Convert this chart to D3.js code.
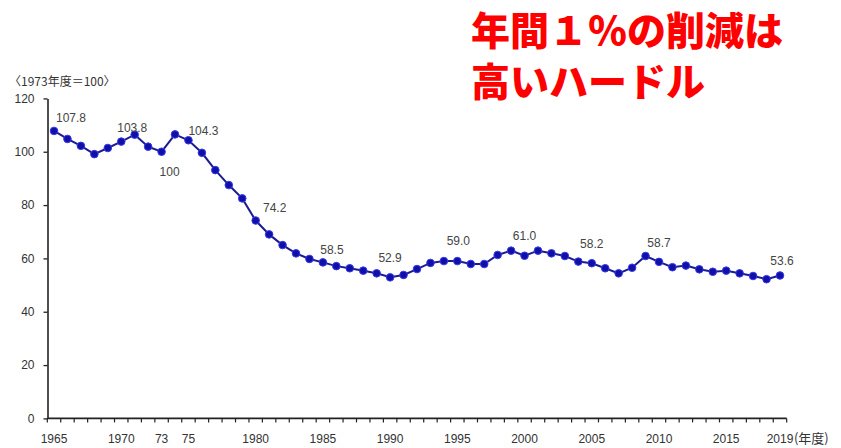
<!DOCTYPE html>
<html>
<head>
<meta charset="utf-8">
<script src="https://cdn.jsdelivr.net/npm/d3@7"></script>
<style>
  html, body { margin: 0; padding: 0; background: #fff; }
  svg { display: block; }
</style>
</head>
<body>
<svg id="chart" width="841" height="448"></svg>
<script>
// Energy intensity index by fiscal year (FY1973 = 100)
const years = d3.range(1965, 2020);
const values = [
  107.8, 104.8, 102.2, 99.1, 101.4, 103.8, 106.4, 101.9, 100, 106.5,
  104.3, 99.6, 93.1, 87.5, 82.5, 74.2, 69.0, 65.0, 61.9, 59.8,
  58.5, 57.1, 56.3, 55.4, 54.4, 52.9, 53.8, 56.0, 58.3, 59.0,
  59.0, 57.9, 57.9, 61.3, 62.9, 61.0, 62.9, 61.9, 60.9, 58.8,
  58.2, 56.3, 54.4, 56.5, 60.9, 58.7, 56.7, 57.3, 55.9, 55.0,
  55.4, 54.4, 53.4, 52.2, 53.6
];
const yTicks = [0, 20, 40, 60, 80, 100, 120];
const xTickYears = [1965, 1970, 1973, 1975, 1980, 1985, 1990, 1995, 2000, 2005, 2010, 2015, 2019];
const xTickText = ["1965", "1970", "73", "75", "1980", "1985", "1990", "1995", "2000", "2005", "2010", "2015", "2019"];
const labelYears = [1965, 1970, 1973, 1975, 1980, 1985, 1990, 1995, 2000, 2005, 2010, 2019];
const titleLines = ["年間１％の削減は", "高いハードル"];
const yUnit = "〈1973年度＝100〉";
const xUnit = "(年度)";

// Placement of the value labels relative to their points
const labelOffset = {
  1965: [17, -9], 1970: [11, -10], 1973: [8, 24], 1975: [15, -5],
  1980: [19, -9], 1985: [9, -8], 1990: [0, -15], 1995: [1, -16],
  2000: [0, -16], 2005: [0, -15], 2010: [0, -15], 2019: [2, -10]
};

const svg = d3.select("#chart");
const latin = "'Liberation Sans', Arial, sans-serif";
const jp = "'Noto Sans CJK JP', sans-serif";

const x = d3.scaleBand().domain(years).range([47.3, 786.7]);
const y = d3.scaleLinear().domain([0, 120]).range([418.4, 98.4]);
const cx = yr => x(yr) + x.bandwidth() / 2;
const valueOf = new Map(years.map((yr, i) => [yr, values[i]]));

// Y axis
const yAxis = svg.append("g").attr("transform", "translate(47.5,0)")
  .call(d3.axisLeft(y).tickValues(yTicks).tickSize(4).tickPadding(9).tickSizeOuter(0));
yAxis.select(".domain").attr("stroke", "#222").attr("stroke-width", 1.6);
yAxis.selectAll(".tick line").attr("stroke", "#222").attr("stroke-width", 1.3);
yAxis.selectAll(".tick text").attr("font-family", latin).attr("font-size", 12).attr("fill", "#333");

// X axis: ticks on the category boundaries
const xAxisG = svg.append("g");
xAxisG.append("line")
  .attr("x1", x.range()[0]).attr("x2", x.range()[1])
  .attr("y1", y(0)).attr("y2", y(0))
  .attr("stroke", "#222").attr("stroke-width", 1.6);
const bounds = years.map(yr => x(yr)).concat([x.range()[1]]);
xAxisG.selectAll("line.tk").data(bounds).join("line").attr("class", "tk")
  .attr("x1", d => d).attr("x2", d => d)
  .attr("y1", y(0)).attr("y2", y(0) + 4)
  .attr("stroke", "#222").attr("stroke-width", 1.2);
xAxisG.selectAll("text.xl").data(xTickYears).join("text").attr("class", "xl")
  .attr("x", d => cx(d)).attr("y", 443)
  .attr("text-anchor", "middle")
  .attr("font-family", latin).attr("font-size", 12).attr("fill", "#333")
  .text((d, i) => xTickText[i]);
svg.append("text")
  .attr("x", cx(2019) + 14).attr("y", 443)
  .attr("font-family", jp).attr("font-size", 13).attr("fill", "#333")
  .text(xUnit);

// Y unit caption
svg.append("text")
  .attr("x", 9).attr("y", 86)
  .attr("font-family", jp).attr("font-size", 12).attr("fill", "#333")
  .text(yUnit);

// Series line and markers
const line = d3.line().x((d, i) => cx(years[i])).y(d => y(d));
svg.append("path").datum(values)
  .attr("d", line)
  .attr("fill", "none").attr("stroke", "#1c1c8e").attr("stroke-width", 2);
svg.selectAll("circle.pt").data(values).join("circle").attr("class", "pt")
  .attr("cx", (d, i) => cx(years[i])).attr("cy", d => y(d))
  .attr("r", 3.8)
  .attr("fill", "#1010a8").attr("stroke", "#3838e8").attr("stroke-width", 1);

// Value labels (the base-year value is shown without a decimal)
const fmt = v => v === 100 ? "100" : v.toFixed(1);
svg.selectAll("text.vl").data(labelYears).join("text").attr("class", "vl")
  .attr("x", d => cx(d) + labelOffset[d][0])
  .attr("y", d => y(valueOf.get(d)) + labelOffset[d][1])
  .attr("text-anchor", "middle")
  .attr("font-family", latin).attr("font-size", 12).attr("fill", "#444")
  .text(d => fmt(valueOf.get(d)));

// Headline
svg.selectAll("text.title").data(titleLines).join("text").attr("class", "title")
  .attr("x", 471).attr("y", (d, i) => 45 + i * 51)
  .attr("font-family", jp).attr("font-weight", 900).attr("font-size", 39)
  .attr("fill", "#ff0000")
  .text(d => d);
</script>
</body>
</html>
